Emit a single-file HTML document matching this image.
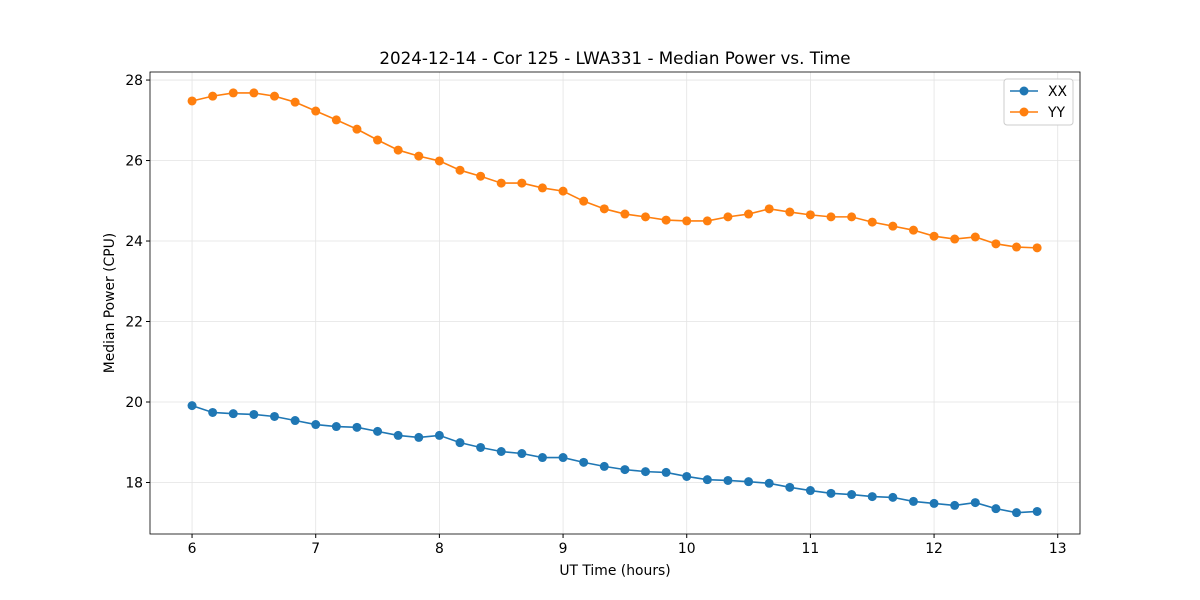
<!DOCTYPE html>
<html><head><meta charset="utf-8"><style>
body{margin:0;background:#fff;}
svg{display:block;font-family:"DejaVu Sans","Liberation Sans",sans-serif;}
</style></head><body>
<svg id="chart" width="1200" height="600"></svg>
<script>
const xTicks=[6,7,8,9,10,11,12,13];
const yTicks=[18,20,22,24,26,28];
const times=[];for(let i=0;i<42;i++)times.push(6+i/6);
const xxValues=[19.91,19.74,19.71,19.69,19.64,19.54,19.44,19.39,19.37,19.27,19.17,19.12,19.17,18.99,18.87,18.77,18.72,18.62,18.62,18.50,18.40,18.32,18.27,18.25,18.15,18.07,18.05,18.02,17.98,17.88,17.80,17.73,17.70,17.65,17.63,17.53,17.48,17.43,17.50,17.35,17.25,17.28];
const yyValues=[27.48,27.60,27.68,27.68,27.60,27.45,27.23,27.01,26.78,26.51,26.26,26.11,25.99,25.76,25.61,25.44,25.44,25.32,25.24,24.99,24.80,24.67,24.60,24.52,24.50,24.50,24.60,24.67,24.80,24.72,24.65,24.60,24.60,24.47,24.37,24.27,24.12,24.05,24.10,23.93,23.85,23.83];
const L=150,R=1080,T=72,B=534;
const xMin=5.66,xMax=13.18,yMin=16.72,yMax=28.2;
const sx=v=>L+(v-xMin)/(xMax-xMin)*(R-L);
const sy=v=>B-(v-yMin)/(yMax-yMin)*(B-T);
const svg=document.getElementById('chart');
const NS='http://www.w3.org/2000/svg';
function mk(tag,attrs,parent){const e=document.createElementNS(NS,tag);for(const k in attrs)e.setAttribute(k,attrs[k]);(parent||svg).appendChild(e);return e;}
xTicks.forEach(t=>{const g=mk('line',{x1:sx(t),x2:sx(t),y1:T,y2:B,stroke:'#e3e3e3','stroke-width':0.8});

});
yTicks.forEach(t=>{const g=mk('line',{x1:L,x2:R,y1:sy(t),y2:sy(t),stroke:'#e3e3e3','stroke-width':0.8});

});
xTicks.forEach(t=>{mk('line',{x1:sx(t),x2:sx(t),y1:B,y2:B+4,stroke:'#000'});
const tx=mk('text',{x:sx(t),y:B+19,'text-anchor':'middle','font-size':13.9});tx.textContent=t;

});
yTicks.forEach(t=>{mk('line',{x1:L-4,x2:L,y1:sy(t),y2:sy(t),stroke:'#000'});
const tx=mk('text',{x:L-7,y:sy(t)+5,'text-anchor':'end','font-size':13.9});tx.textContent=t;

});
const frame=mk('rect',{x:L,y:T,width:R-L,height:B-T,fill:'none',stroke:'#000','stroke-width':0.8});


function series(vals,color,name){
  const p=mk('polyline',{points:times.map((t,i)=>sx(t)+','+sy(vals[i])).join(' '),fill:'none',stroke:color,'stroke-width':1.6});
  
  
  times.forEach((t,i)=>{const c=mk('circle',{cx:sx(t),cy:sy(vals[i]),r:4.5,fill:color});
  
  });
}
series(xxValues,'#1f77b4','xx');
series(yyValues,'#ff7f0e','yy');
const ti=mk('text',{x:615,y:64,'text-anchor':'middle','font-size':16.7});ti.textContent='2024-12-14 - Cor 125 - LWA331 - Median Power vs. Time';


const xl=mk('text',{x:615,y:575,'text-anchor':'middle','font-size':13.9});xl.textContent='UT Time (hours)';


const yl=mk('text',{x:114,y:303,'text-anchor':'middle','font-size':13.9,transform:'rotate(-90 114 303)'});yl.textContent='Median Power (CPU)';


const lg=mk('g',{});


mk('rect',{x:1004,y:79,width:69,height:46,rx:3,fill:'#fff',stroke:'#ccc'},lg);
[['XX','#1f77b4',91],['YY','#ff7f0e',112]].forEach(([n,c,y])=>{
  const e=mk('g',{},lg);
  
  
  mk('line',{x1:1010,x2:1038,y1:y,y2:y,stroke:c,'stroke-width':1.6},e);
  mk('circle',{cx:1024,cy:y,r:4.5,fill:c},e);
  const t=mk('text',{x:1048,y:y+5,'font-size':13.9},e);t.textContent=n;
});
</script>
</body></html>
